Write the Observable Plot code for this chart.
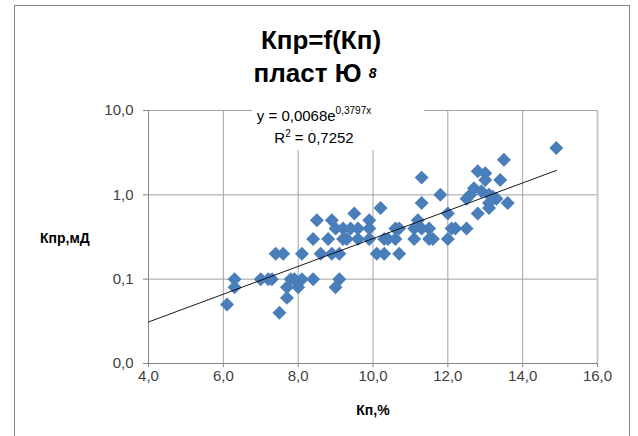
<!DOCTYPE html>
<html>
<head>
<meta charset="utf-8">
<script src="https://cdn.jsdelivr.net/npm/d3@7"></script>
<script src="https://cdn.jsdelivr.net/npm/@observablehq/plot@0.6"></script>
<style>
  html, body { margin: 0; padding: 0; background: #fff; overflow: hidden; }
  #wrap { position: relative; width: 638px; height: 436px; font-family: "Liberation Sans", Arial, sans-serif; }
  #frame { position: absolute; left: 14px; top: 5px; width: 616px; height: 470px; border: 1px solid #8a8a8a; box-sizing: border-box; }
  .ov { position: absolute; white-space: nowrap; line-height: 1; color: #000; }
  #chart { position: absolute; left: 0; top: 0; }
</style>
</head>
<body>
<div id="wrap">
  <div id="frame"></div>
  <div id="chart"></div>
  <div class="ov" id="t1" style="left:0;width:642px;text-align:center;top:27px;font-size:26px;font-weight:bold;"></div>
  <div class="ov" id="t2" style="left:0;width:630px;text-align:center;top:60px;font-size:26px;font-weight:bold;"></div>
  <div class="ov" id="ylab" style="left:40px;top:231px;font-size:14px;font-weight:bold;"></div>
  <div class="ov" id="xlab" style="left:273px;width:200px;text-align:center;top:403px;font-size:14px;font-weight:bold;"></div>
  <div class="ov" id="eqbox" style="left:252px;top:100px;width:172px;height:50px;background:#fff;"></div>
  <div class="ov" id="eq1" style="left:214px;width:200px;text-align:center;top:108px;font-size:15px;color:#000;"></div>
  <div class="ov" id="eq2" style="left:214px;width:200px;text-align:center;top:130px;font-size:15px;color:#000;"></div>
</div>
<script>
// ---- data ----
const kp = [6.1,6.3,6.3,7.0,7.2,7.3,7.4,7.6,7.5,7.7,7.7,7.8,7.9,8.0,8.1,8.1,8.4,8.4,8.5,8.6,8.8,8.9,8.9,9.0,9.1,9.1,9.0,9.2,9.2,9.3,9.4,9.5,9.6,9.6,9.9,9.9,9.9,10.1,10.2,10.3,10.3,10.4,10.6,10.6,10.7,10.7,11.1,11.1,11.2,11.3,11.3,11.3,11.5,11.5,11.6,11.8,12.0,12.0,12.1,12.2,12.5,12.5,12.6,12.7,12.8,12.8,13.0,13.0,12.9,13.1,13.1,13.1,13.2,13.3,13.4,13.5,13.6,14.9];
const kpr = [0.05,0.1,0.08,0.1,0.1,0.1,0.2,0.2,0.04,0.06,0.08,0.1,0.1,0.08,0.1,0.2,0.1,0.3,0.5,0.2,0.3,0.5,0.2,0.08,0.1,0.2,0.4,0.4,0.3,0.3,0.4,0.6,0.4,0.3,0.5,0.4,0.3,0.2,0.7,0.3,0.2,0.3,0.3,0.4,0.4,0.2,0.3,0.4,0.5,0.8,1.6,0.4,0.4,0.3,0.3,1.0,0.3,0.6,0.4,0.4,0.4,0.9,1.0,1.2,0.6,1.9,1.8,1.5,1.1,1.0,0.8,0.7,0.95,0.9,1.5,2.6,0.8,3.6];
// exponential trendline y = a*e^(b*x), drawn over the x span shown
const trendA = 0.0068, trendB = 0.3797;
const trendX = [4.0, 14.9];
const xTicks = [4, 6, 8, 10, 12, 14, 16];
const xTickLabels = ["4,0","6,0","8,0","10,0","12,0","14,0","16,0"];
const yTicks = [0.01, 0.1, 1, 10];
const yTickLabels = ["0,0","0,1","1,0","10,0"];
const title1 = "Кпр=f(Кп)";
const title2 = "пласт Ю";
const title2sub = "8";
const yLabel = "Кпр,мД";
const xLabel = "Кп,%";
const eqMain = "y = 0,0068e";
const eqExp = "0,3797x";
const r2Text = "= 0,7252";

const points = kp.map((x, i) => ({x, y: kpr[i]}));
const trend = trendX.map(x => ({x, y: trendA * Math.exp(trendB * x)}));

const grid = "#a3a3a3";
const chart = Plot.plot({
  width: 638, height: 436,
  marginLeft: 148, marginRight: 41, marginTop: 110, marginBottom: 73,
  style: {fontFamily: "'Liberation Sans', Arial, sans-serif", fontSize: "15px", color: "#404040", background: "transparent"},
  x: {domain: [4, 16]},
  y: {type: "log", domain: [0.01, 10]},
  marks: [
    Plot.gridX(xTicks, {stroke: grid, strokeOpacity: 1}),
    Plot.gridY(yTicks, {stroke: grid, strokeOpacity: 1}),
    Plot.ruleX([16], {stroke: "#c8c8c8", strokeWidth: 2}),
    Plot.ruleX([4], {stroke: "#868686"}),
    Plot.ruleY([0.01], {stroke: "#868686"}),
    Plot.axisX(xTicks, {tickFormat: (d) => xTickLabels[xTicks.indexOf(d)], tickSize: 4, tickPadding: 3, stroke: "#868686", fill: "#404040", label: null, fontSize: 15}),
    Plot.axisY(yTicks, {tickFormat: (d) => yTickLabels[yTicks.indexOf(d)], tickSize: 5, tickPadding: 10, stroke: "#868686", fill: "#404040", label: null, fontSize: 15}),
    Plot.dot(points, {x: "x", y: "y", symbol: "diamond2", r: 6.3, fill: "#4A7EBB", stroke: "none"}),
    Plot.line(trend, {x: "x", y: "y", stroke: "#000", strokeWidth: 0.9})
  ]
});
document.getElementById("chart").appendChild(chart);

document.getElementById("t1").textContent = title1;
const t2 = document.getElementById("t2");
t2.textContent = title2 + " ";
const sub = document.createElement("span");
sub.textContent = title2sub;
sub.style.cssText = "font-size:14px;font-style:italic;position:relative;top:-4px;";
t2.appendChild(sub);
document.getElementById("ylab").textContent = yLabel;
document.getElementById("xlab").textContent = xLabel;
const eq1 = document.getElementById("eq1");
eq1.textContent = eqMain;
const sup = document.createElement("span");
sup.textContent = eqExp;
sup.style.cssText = "font-size:10px;position:relative;top:-7px;";
eq1.appendChild(sup);
const eq2 = document.getElementById("eq2");
eq2.appendChild(document.createTextNode("R"));
const s2 = document.createElement("span");
s2.textContent = "2";
s2.style.cssText = "font-size:10px;position:relative;top:-6px;";
eq2.appendChild(s2);
eq2.appendChild(document.createTextNode(" " + r2Text));
</script>
</body>
</html>
